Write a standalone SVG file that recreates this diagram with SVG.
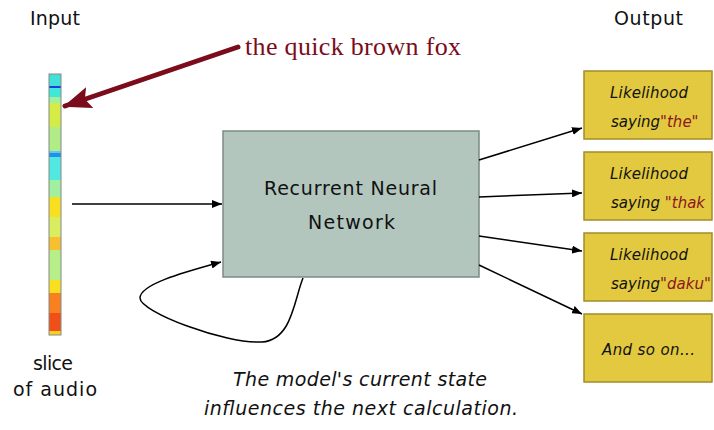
<svg xmlns="http://www.w3.org/2000/svg" width="714" height="430" viewBox="0 0 714 430">
<defs>
<style>
.t{font-family:"DejaVu Sans","Liberation Sans",sans-serif;fill:#111}
.lbl{font-size:19px}
.box{fill:#e2c93f;stroke:#a38c2a;stroke-width:1.5}
.bt{font-family:"DejaVu Sans","Liberation Sans",sans-serif;font-style:italic;font-size:15px;fill:#111}
.q{fill:#8e1620}
.conn{fill:none;stroke:#000;stroke-width:1.5}
</style>
<marker id="ah" markerWidth="10" markerHeight="8" refX="10" refY="4" orient="auto" markerUnits="userSpaceOnUse" viewBox="0 0 10 8">
<path d="M0,0 L10,4 L0,8 Z" fill="#000"/>
</marker>
<marker id="rah" markerWidth="28" markerHeight="22" refX="26" refY="11" orient="auto" markerUnits="userSpaceOnUse" viewBox="0 0 28 22">
<path d="M0,0 L28,11 L0,22 L5,11 Z" fill="#7a0c1c"/>
</marker>
</defs>
<rect width="714" height="430" fill="#fff"/>

<text class="t lbl" x="30" y="25" textLength="50">Input</text>
<text class="t lbl" x="614" y="25" textLength="69">Output</text>

<g id="audio">
<rect x="49" y="74" width="12" height="261" fill="#a8e890"/>
<rect x="49" y="74" width="12" height="12" fill="#40e0d8"/>
<rect x="49" y="86" width="12" height="2" fill="#1a3ce0"/>
<rect x="49" y="88" width="12" height="9" fill="#40e8d8"/>
<rect x="49" y="97" width="12" height="6" fill="#a0f0a0"/>
<rect x="49" y="103" width="12" height="24" fill="#d4ec48"/>
<rect x="49" y="127" width="12" height="24" fill="#b0ec88"/>
<rect x="49" y="151" width="12" height="2" fill="#60c8f0"/>
<rect x="49" y="153" width="12" height="4" fill="#2090f0"/>
<rect x="49" y="157" width="12" height="23" fill="#50e8e0"/>
<rect x="49" y="180" width="12" height="17" fill="#a0f0a0"/>
<rect x="49" y="197" width="12" height="20" fill="#f8e020"/>
<rect x="49" y="217" width="12" height="20" fill="#d8ee60"/>
<rect x="49" y="237" width="12" height="13" fill="#f8c030"/>
<rect x="49" y="250" width="12" height="30" fill="#b8ee88"/>
<rect x="49" y="280" width="12" height="13" fill="#f8e020"/>
<rect x="49" y="293" width="12" height="20" fill="#f88020"/>
<rect x="49" y="313" width="12" height="18" fill="#f05018"/>
<rect x="49" y="331" width="12" height="4" fill="#f8d020"/>
<rect x="49" y="74" width="12" height="261" fill="none" stroke="#888" stroke-width="1"/>
</g>

<g id="audio-label">
<text class="t lbl" x="33" y="370" textLength="40">slice</text>
<text class="t lbl" x="13" y="396" textLength="84">of audio</text>
</g>

<g id="phrase">
<text x="245" y="55" font-family="'Liberation Serif','DejaVu Serif',serif" font-size="26" fill="#7a0c1c" textLength="216">the quick brown fox</text>
</g>

<g id="rnn">
<rect x="223" y="131" width="256" height="146" fill="#b2c6be" stroke="#7c8a85" stroke-width="1.5"/>
<text class="t lbl" x="264" y="195" textLength="173">Recurrent Neural</text>
<text class="t lbl" x="308" y="229" textLength="87">Network</text>
</g>

<g id="out1">
<rect class="box" x="584" y="71" width="128" height="68"/>
<text class="bt" x="610" y="98" textLength="78">Likelihood</text>
<text class="bt" x="611" y="127">saying<tspan class="q">"the"</tspan></text>
</g>
<g id="out2">
<rect class="box" x="584" y="152" width="128" height="68"/>
<text class="bt" x="610" y="179" textLength="78">Likelihood</text>
<text class="bt" x="611" y="208">saying <tspan class="q">"thak</tspan></text>
</g>
<g id="out3">
<rect class="box" x="584" y="233" width="128" height="68"/>
<text class="bt" x="610" y="260" textLength="78">Likelihood</text>
<text class="bt" x="611" y="289">saying<tspan class="q">"daku"</tspan></text>
</g>
<g id="out4">
<rect class="box" x="584" y="314" width="128" height="68"/>
<text class="bt" x="602" y="355" textLength="93">And so on...</text>
</g>

<g id="caption">
<text class="t" x="233" y="386" font-size="19" font-style="italic" textLength="254">The model's current state</text>
<text class="t" x="204" y="415" font-size="19" font-style="italic" textLength="314">influences the next calculation.</text>
</g>

<g id="connectors">
<line class="conn" x1="72" y1="204" x2="222" y2="204" marker-end="url(#ah)"/>
<path class="conn" d="M303,278 C294,300 292,340 262,342 C225,344 140,312 140,298 C140,284 185,272 221,262" marker-end="url(#ah)"/>
<line class="conn" x1="479" y1="160" x2="582" y2="128" marker-end="url(#ah)"/>
<line class="conn" x1="479" y1="197" x2="582" y2="193" marker-end="url(#ah)"/>
<line class="conn" x1="479" y1="236" x2="582" y2="251" marker-end="url(#ah)"/>
<line class="conn" x1="479" y1="265" x2="582" y2="314" marker-end="url(#ah)"/>
<line x1="238" y1="47" x2="65" y2="106" stroke="#7a0c1c" stroke-width="5" stroke-linecap="round" marker-end="url(#rah)"/>
</g>
</svg>
